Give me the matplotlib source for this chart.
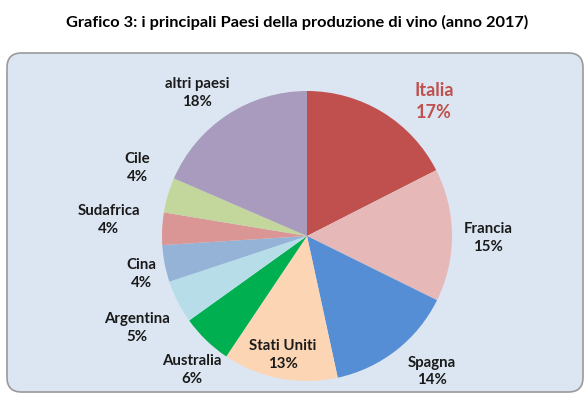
"""
Grafico 3: i principali Paesi della produzione di vino (anno 2017)
"""
import matplotlib.pyplot as plt
from matplotlib.patches import FancyBboxPatch

plt.rcParams['font.family'] = ['Lato', 'DejaVu Sans']

# data (share of world wine production)
paesi = ['Italia', 'Francia', 'Spagna', 'Stati Uniti', 'Australia',
         'Argentina', 'Cina', 'Sudafrica', 'Cile', 'altri paesi']
quote = [17.5, 14.8, 14.3, 12.8, 5.7, 4.8, 4.1, 3.6, 3.9, 18.5]
etichette = ['17%', '15%', '14%', '13%', '6%', '5%', '4%', '4%', '4%', '18%']

colori = ['#C0504D', '#E6B9B8', '#558ED5', '#FCD5B5', '#00B050',
          '#B7DEE8', '#95B3D7', '#D99694', '#C3D69B', '#A99BBD']

# label positions, in units of the pie radius
pos_label = [(0.876, 0.928), (1.248, -0.014), (0.862, -0.935), (-0.166, -0.821),
             (-0.794, -0.924), (-1.172, -0.634), (-1.145, -0.262),
             (-1.366, 0.110), (-1.172, 0.469), (-0.759, 0.986)]

W, H = 587, 399
cx, cy, R = 307, 236, 145

fig = plt.figure(figsize=(W / 100, H / 100), dpi=100)
ax = fig.add_axes([0, 0, 1, 1])

ax.pie(quote, colors=colori, startangle=90, counterclock=False, radius=1,
       wedgeprops=dict(linewidth=0), normalize=True)

# sfondo arrotondato
box = FancyBboxPatch(((7 - cx) / R + 0.1, (cy - 392) / R + 0.1),
                     (583 - 7) / R - 0.2, (392 - 53) / R - 0.2,
                     boxstyle='round,pad=0.1', facecolor='#DCE6F2',
                     edgecolor='#9A9A9A', linewidth=1.2, zorder=-5)
ax.add_patch(box)

for nome, lab, (x, y) in zip(paesi, etichette, pos_label):
    if nome == 'Italia':
        ax.text(x, y, f'{nome}\n{lab}', ha='center', va='center', fontsize=13,
                fontweight='bold', color='#C0504D', linespacing=1.3)
    else:
        ax.text(x, y, f'{nome}\n{lab}', ha='center', va='center', fontsize=10.8,
                fontweight='bold', color='#1A1A1A', linespacing=1.3)

ax.set_xlim(-cx / R, (W - cx) / R)
ax.set_ylim(-(H - cy) / R, cy / R)
ax.set_aspect('equal')
ax.axis('off')

fig.text(297 / W, 1 - 22 / H, 'Grafico 3: i principali Paesi della produzione di vino (anno 2017)',
         ha='center', va='center', fontsize=11.8, fontweight='bold', color='black')

plt.savefig('out.png', dpi=100)
plt.close()
